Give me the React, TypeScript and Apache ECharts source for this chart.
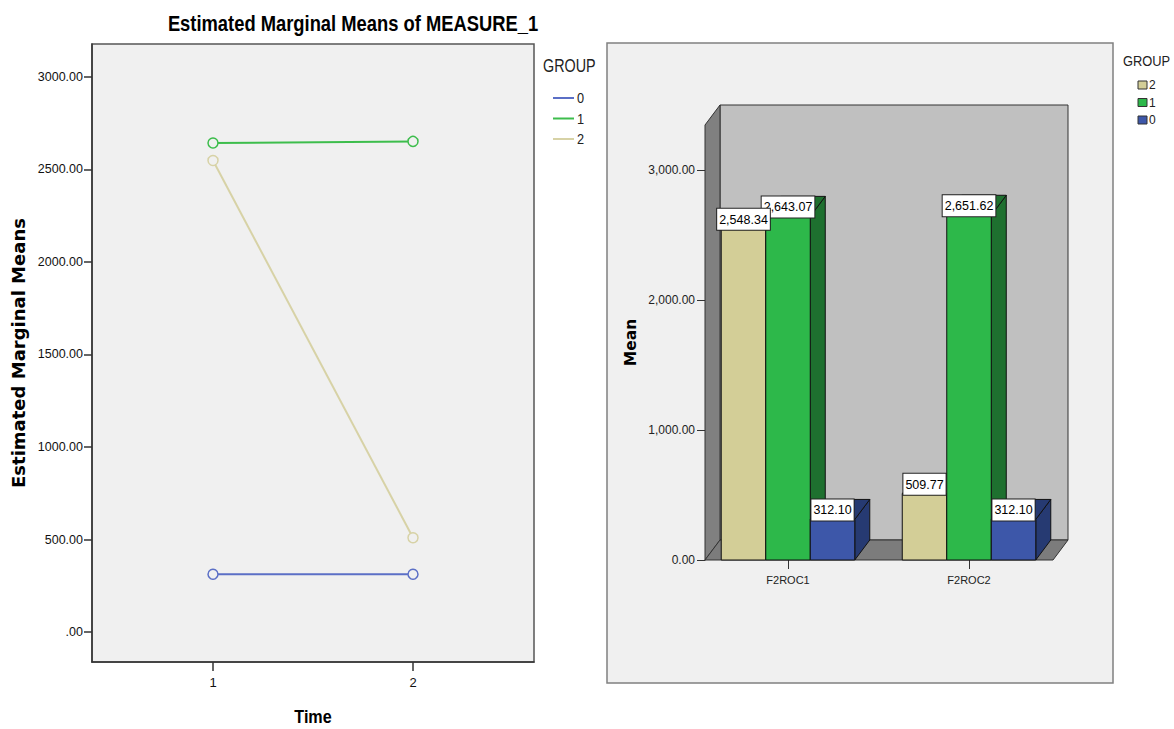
import React, { useEffect, useRef } from "react";
import * as echarts from "echarts";

// ---- data ----
const timePoints = [1, 2];
const groupNames = ["0", "1", "2"];
const means0 = [312.1, 312.1];
const means1 = [2643.07, 2651.62];
const means2 = [2548.34, 509.77];
const leftTicks = [0, 500, 1000, 1500, 2000, 2500, 3000];
const categories = ["F2ROC1", "F2ROC2"];
const rightTicks = [0, 1000, 2000, 3000];

// ---- styles ----
const ARIAL = '"Liberation Sans", Arial, sans-serif';
const DEJAVU = '"DejaVu Sans", Verdana, sans-serif';

const lineColors = ["#5b6fc6", "#3dbd4c", "#d7d2a6"];
const barFront = { "2": "#d3ce97", "1": "#2db84a", "0": "#3d57a9" };
const barShade = { "2": "#a7a374", "1": "#1e702f", "0": "#263a72" };

const L_YMIN = -162, L_YMAX = 3178, L_XMIN = 0.395, L_XMAX = 2.605;
const R_XMIN = 0.5414, R_XMAX = 2.464, R_YMAX = 3346;
const DX = 15, DY = -20;
const BAR_W = 0.2459;

const fmtComma = (v: number) =>
  v.toLocaleString("en-US", { minimumFractionDigits: 2, maximumFractionDigits: 2 });

function wallsItem(params: any, api: any) {
  const p00 = api.coord([R_XMIN, 0]);
  const p10 = api.coord([R_XMAX, 0]);
  const p0t = api.coord([R_XMIN, R_YMAX]);
  const stroke = { stroke: "#333", lineWidth: 1 };
  return {
    type: "group",
    children: [
      {
        type: "rect",
        shape: { x: p00[0] + DX, y: p0t[1] + DY, width: p10[0] - p00[0], height: p00[1] - p0t[1] },
        style: { fill: "#c0c0c0", ...stroke },
      },
      {
        type: "polygon",
        shape: { points: [[p00[0], p0t[1]], [p00[0] + DX, p0t[1] + DY], [p00[0] + DX, p00[1] + DY], [p00[0], p00[1]]] },
        style: { fill: "#808080", ...stroke },
      },
      {
        type: "polygon",
        shape: { points: [[p00[0], p00[1]], [p00[0] + DX, p00[1] + DY], [p10[0] + DX, p10[1] + DY], [p10[0], p10[1]]] },
        style: { fill: "#7c7c7c", ...stroke },
      },
    ],
  };
}

function makeBarRender(group: string, offset: number) {
  return (params: any, api: any) => {
    const x = api.value(0);
    const v = api.value(1);
    const c = x + offset * BAR_W;
    const tl = api.coord([c - BAR_W / 2, v]);
    const br = api.coord([c + BAR_W / 2, 0]);
    const st = { stroke: "#111", lineWidth: 1 };
    return {
      type: "group",
      children: [
        {
          type: "polygon",
          shape: { points: [[br[0], tl[1]], [br[0] + DX, tl[1] + DY], [br[0] + DX, br[1] + DY], [br[0], br[1]]] },
          style: { fill: (barShade as any)[group], ...st },
        },
        {
          type: "polygon",
          shape: { points: [[tl[0], tl[1]], [tl[0] + DX, tl[1] + DY], [br[0] + DX, tl[1] + DY], [br[0], tl[1]]] },
          style: { fill: (barShade as any)[group], ...st },
        },
        {
          type: "rect",
          shape: { x: tl[0], y: tl[1], width: br[0] - tl[0], height: br[1] - tl[1] },
          style: { fill: (barFront as any)[group], ...st },
        },
      ],
    };
  };
}

function labelsItem(params: any, api: any) {
  const x = api.value(0);
  const order = [
    { dim: 3, off: 1 },
    { dim: 2, off: 0 },
    { dim: 1, off: -1 },
  ];
  return {
    type: "group",
    children: order.map((o) => {
      const v = api.value(o.dim);
      const p = api.coord([x + o.off * BAR_W, v]);
      return {
        type: "text",
        x: p[0],
        y: p[1] + 1,
        style: {
          text: fmtComma(v),
          fill: "#000",
          font: `12.5px ${ARIAL}`,
          lineHeight: 14,
          align: "center",
          verticalAlign: "bottom",
          backgroundColor: "#fff",
          borderColor: "#222",
          borderWidth: 1,
          padding: [4, 2, 3, 2],
        },
      };
    }),
  };
}

export default function App() {
  const ref = useRef<HTMLDivElement>(null);
  useEffect(() => {
    if (!ref.current) return;
    const chart = echarts.init(ref.current, undefined, { renderer: "svg" });
    const lineMeans = [means0, means1, means2];

    const texts: any[] = [
      {
        type: "text", x: 353, y: 23, scaleX: 0.835, z: 10,
        style: { text: "Estimated Marginal Means of MEASURE_1", font: `bold 22px ${ARIAL}`, fill: "#000", align: "center", verticalAlign: "middle" },
      },
      {
        type: "text", x: 313, y: 717, scaleX: 0.85, z: 10,
        style: { text: "Time", font: `bold 19px ${ARIAL}`, fill: "#000", align: "center", verticalAlign: "middle" },
      },
      {
        type: "text", x: 543, y: 66, scaleX: 0.82, z: 10,
        style: { text: "GROUP", font: `17.5px ${ARIAL}`, fill: "#222", align: "left", verticalAlign: "middle" },
      },
      {
        type: "text", x: 1123, y: 61, scaleX: 0.92, z: 10,
        style: { text: "GROUP", font: `14px ${ARIAL}`, fill: "#222", align: "left", verticalAlign: "middle" },
      },
    ];
    groupNames.forEach((g, i) => {
      const y = 98 + i * 20.5;
      texts.push({ type: "line", shape: { x1: 553, y1: y, x2: 574, y2: y }, style: { stroke: lineColors[i], lineWidth: 2 } });
      texts.push({ type: "text", x: 577, y, scaleX: 0.85, style: { text: g, font: `15px ${ARIAL}`, fill: "#222", verticalAlign: "middle" } });
    });
    ["2", "1", "0"].forEach((g, i) => {
      const y = 85 + i * 17.5;
      texts.push({ type: "rect", shape: { x: 1138, y: y - 4, width: 9, height: 8 }, style: { fill: (barFront as any)[g], stroke: "#333", lineWidth: 1 } });
      texts.push({ type: "text", x: 1149, y, style: { text: g, font: `12px ${ARIAL}`, fill: "#222", verticalAlign: "middle" } });
    });

    chart.setOption({
      animation: false,
      backgroundColor: "#fff",
      graphic: [
        {
          type: "rect",
          z: -10,
          shape: { x: 607, y: 43, width: 506, height: 640 },
          style: { fill: "#f0f0f0", stroke: "#808080", lineWidth: 1.5 },
        },
        ...texts,
      ],
      grid: [
        {
          left: 92, top: 44, width: 442, height: 618,
          show: true, backgroundColor: "#f0f0f0", borderColor: "#555", borderWidth: 1.5,
          outerBoundsMode: "none", containLabel: false,
        },
        { left: 705, top: 125, width: 348, height: 435, outerBoundsMode: "none", containLabel: false },
      ],
      xAxis: [
        {
          type: "value", gridIndex: 0, min: L_XMIN, max: L_XMAX,
          axisLine: { show: true, onZero: false, lineStyle: { color: "#333", width: 1.5 } },
          axisTick: { show: true, customValues: timePoints, length: 9, lineStyle: { color: "#333", width: 1.5 } },
          axisLabel: { customValues: timePoints, formatter: (v: number) => String(v), margin: 14, fontFamily: ARIAL, fontSize: 13, color: "#111" },
          splitLine: { show: false },
        },
        {
          type: "value", gridIndex: 1, min: R_XMIN, max: R_XMAX,
          axisLine: { show: false, onZero: false },
          axisTick: { show: true, customValues: [1, 2], length: 9, lineStyle: { color: "#333" } },
          axisLabel: { customValues: [1, 2], formatter: (v: number) => categories[Math.round(v) - 1], margin: 14, fontFamily: ARIAL, fontSize: 11, color: "#222" },
          splitLine: { show: false },
        },
      ],
      yAxis: [
        {
          type: "value", gridIndex: 0, min: L_YMIN, max: L_YMAX,
          axisLine: { show: true, onZero: false, lineStyle: { color: "#333", width: 1.5 } },
          axisTick: { show: true, customValues: leftTicks, length: 8, lineStyle: { color: "#333", width: 1.5 } },
          axisLabel: { customValues: leftTicks, formatter: (v: number) => (v === 0 ? ".00" : v.toFixed(2)), margin: 9, fontFamily: ARIAL, fontSize: 12.5, color: "#111" },
          splitLine: { show: false },
          name: "Estimated Marginal Means", nameLocation: "middle", nameGap: 65, nameRotate: 90,
          nameTextStyle: { fontFamily: DEJAVU, fontWeight: "bold", fontSize: 18, color: "#000" },
        },
        {
          type: "value", gridIndex: 1, min: 0, max: R_YMAX,
          axisLine: { show: true, onZero: false, lineStyle: { color: "#333", width: 1 } },
          axisTick: { show: true, customValues: rightTicks, length: 8, lineStyle: { color: "#333" } },
          axisLabel: { customValues: rightTicks, formatter: (v: number) => fmtComma(v), margin: 10, fontFamily: ARIAL, fontSize: 12, color: "#222" },
          splitLine: { show: false },
          name: "Mean", nameLocation: "middle", nameGap: 66, nameRotate: 90,
          nameTextStyle: { fontFamily: DEJAVU, fontWeight: "bold", fontSize: 15.5, color: "#000" },
        },
      ],
      series: [
        ...groupNames.map((g, i) => ({
          type: "line",
          name: g,
          xAxisIndex: 0,
          yAxisIndex: 0,
          data: timePoints.map((t, j) => [t, lineMeans[i][j]]),
          symbol: "circle",
          symbolSize: 10,
          itemStyle: { color: "#f0f0f0", borderColor: lineColors[i], borderWidth: 1.5 },
          lineStyle: { color: lineColors[i], width: 2 },
          z: 3,
        })),
        {
          type: "custom",
          name: "walls",
          xAxisIndex: 1,
          yAxisIndex: 1,
          data: [[R_XMIN, 0]],
          renderItem: wallsItem,
          clip: false,
          z: 1,
        },
        ...[
          { g: "2", off: -1, vals: means2 },
          { g: "1", off: 0, vals: means1 },
          { g: "0", off: 1, vals: means0 },
        ].map((s) => ({
          type: "custom",
          name: s.g,
          xAxisIndex: 1,
          yAxisIndex: 1,
          data: categories.map((c, i) => [i + 1, s.vals[i]]),
          renderItem: makeBarRender(s.g, s.off),
          clip: false,
          z: 2,
        })),
        {
          type: "custom",
          name: "labels",
          xAxisIndex: 1,
          yAxisIndex: 1,
          data: categories.map((c, i) => [i + 1, means2[i], means1[i], means0[i]]),
          renderItem: labelsItem,
          clip: false,
          z: 4,
        },
      ],
    });
    return () => chart.dispose();
  }, []);
  return (
    <div
      ref={ref}
      style={{ position: "fixed", left: 0, top: 0, width: 1174, height: 729 }}
    />
  );
}
